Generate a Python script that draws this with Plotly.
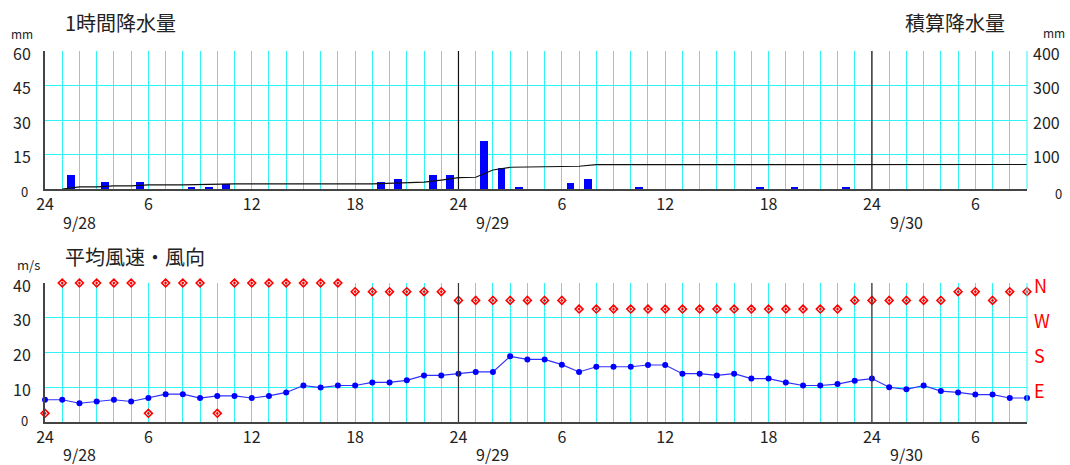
import plotly.graph_objects as go

# ---------------- data ----------------
tick_hours = [0, 6, 12, 18, 24, 30, 36, 42, 48, 54]
tick_labels = ["24", "6", "12", "18", "24", "6", "12", "18", "24", "6"]
date_hours = [2, 26, 50]
date_labels = ["9/28", "9/29", "9/30"]
day_boundaries = [24, 48]

# hourly precipitation (bar centre hour, mm)
rain_hours = [1.5, 3.5, 5.5, 8.5, 9.5, 10.5, 19.5, 20.5, 22.5, 23.5,
              25.5, 26.5, 27.5, 30.5, 31.5, 34.5, 41.5, 43.5, 46.5]
rain_mm = [6, 3, 3, 1, 1, 2, 3, 4.5, 6, 6,
           21, 9, 0.7, 2.5, 4.5, 0.7, 0.7, 0.7, 0.7]

# accumulated precipitation (hour, mm)
cum_hours = [1, 2, 3, 4, 5, 6, 8, 9, 10, 11, 19, 20, 21, 22, 23, 24, 25, 26,
             27, 28, 30, 31, 32, 34, 35, 57]
cum_mm = [0, 6, 6, 9, 9, 12, 12, 13, 14, 15, 15, 17, 20, 20, 26, 33, 34, 55,
          63, 64, 64, 66, 70.5, 70.5, 71, 71]

# wind, hours 0..57
wind_hours = list(range(58))
wind_speed = [6.4, 6.4, 5.4, 5.9, 6.4, 5.9, 6.9, 8.0, 8.0, 6.9,
              7.5, 7.5, 6.9, 7.5, 8.5, 10.5, 9.9, 10.5, 10.5, 11.4,
              11.4, 12.0, 13.4, 13.4, 13.9, 14.4, 14.4, 18.9, 18.0, 18.0,
              16.5, 14.4, 15.9, 15.9, 15.9, 16.4, 16.4, 13.9, 13.9, 13.4,
              13.9, 12.5, 12.5, 11.4, 10.5, 10.5, 10.9, 11.9, 12.5, 10.0,
              9.4, 10.5, 8.9, 8.5, 7.9, 7.9, 6.9, 6.9]
wind_dir = ["NNE", "N", "N", "N", "N", "N", "NNE", "N", "N", "N",
            "NNE", "N", "N", "N", "N", "N", "N", "N", "NNW", "NNW",
            "NNW", "NNW", "NNW", "NNW", "NW", "NW", "NW", "NW", "NW", "NW",
            "NW", "WNW", "WNW", "WNW", "WNW", "WNW", "WNW", "WNW", "WNW", "WNW",
            "WNW", "WNW", "WNW", "WNW", "WNW", "WNW", "WNW", "NW", "NW", "NW",
            "NW", "NW", "NW", "NNW", "NNW", "NW", "NNW", "NNW"]
compass_deg = {"NNE": 22.5, "NE": 45, "ENE": 67.5, "E": 90, "ESE": 112.5,
               "SE": 135, "SSE": 157.5, "S": 180, "SSW": 202.5, "SW": 225,
               "WSW": 247.5, "W": 270, "WNW": 292.5, "NW": 315, "NNW": 337.5,
               "N": 360}
dir_ticks = [90, 180, 270, 360]
dir_labels = ["E", "S", "W", "N"]

# ---------------- style ----------------
FONT = "Noto Sans CJK JP"
CYAN = "#2EF5F5"
AX = "#444444"
TXT = "#222222"
W, H = 1070, 465
ML, MR, MT, MB = 45, 43, 51, 43
PW, PH = W - ML - MR, H - MT - MB


def py(px):  # pixel y -> paper y
    return (H - MB - px) / PH


def pxx(px):  # pixel x -> paper x
    return (px - ML) / PW


fig = go.Figure()

fig.add_trace(go.Bar(x=rain_hours, y=rain_mm, width=0.45,
                     marker=dict(color="#0000FF", line=dict(width=0)),
                     xaxis="x", yaxis="y"))
fig.add_trace(go.Scatter(x=cum_hours, y=cum_mm, mode="lines",
                         line=dict(color="#111111", width=1.2),
                         xaxis="x", yaxis="y2"))
fig.add_trace(go.Scatter(x=wind_hours, y=[compass_deg[d] for d in wind_dir],
                         mode="markers", cliponaxis=False,
                         marker=dict(symbol="diamond-open-dot", size=6,
                                     color="#FF0000", line=dict(width=1.6, color="#FF0000")),
                         xaxis="x2", yaxis="y4"))
fig.add_trace(go.Scatter(x=wind_hours, y=wind_speed, mode="lines+markers",
                         cliponaxis=False,
                         line=dict(color="#3030FF", width=1.2),
                         marker=dict(symbol="circle", size=6, color="#0000FF"),
                         xaxis="x2", yaxis="y3"))

xcommon = dict(range=[0, 57], tickvals=tick_hours, ticktext=tick_labels,
               showgrid=True, gridcolor=CYAN, gridwidth=1, automargin=False,
               minor=dict(dtick=1, tick0=0, showgrid=True, gridcolor=CYAN, gridwidth=1),
               showline=True, linecolor=AX, linewidth=2, ticks="",
               zeroline=False, tickfont=dict(family=FONT, size=16, color=TXT))
ycommon = dict(showgrid=True, gridcolor=CYAN, gridwidth=1, showline=True,
               linecolor=AX, linewidth=2, ticks="", zeroline=False, automargin=False,
               ticklabelstandoff=9, ticklabelshift=3,
               tickfont=dict(family=FONT, size=16, color=TXT))

fig.update_layout(
    width=W, height=H, margin=dict(l=ML, r=MR, t=MT, b=MB, autoexpand=False),
    plot_bgcolor="white", paper_bgcolor="white", showlegend=False, bargap=0,
    xaxis=dict(domain=[0, 1], anchor="y", **xcommon),
    xaxis2=dict(domain=[0, 1], anchor="y3", **xcommon),
    yaxis=dict(domain=[py(189), 1], range=[0, 60], tickvals=[15, 30, 45, 60], **ycommon),
    yaxis2=dict(overlaying="y", side="right", range=[0, 400],
                tickvals=[100, 200, 300, 400], showgrid=False, zeroline=False,
                ticks="", ticklabelstandoff=5, ticklabelshift=3, automargin=False,
                tickfont=dict(family=FONT, size=16, color=TXT)),
    yaxis3=dict(domain=[0, py(283)], range=[0, 40], tickvals=[10, 20, 30, 40], **ycommon),
    yaxis4=dict(overlaying="y3", side="right", range=[0, 360],
                tickvals=dir_ticks, ticktext=dir_labels, showgrid=False,
                zeroline=False, ticks="", ticklabelstandoff=6, ticklabelshift=4,
                automargin=False,
                tickfont=dict(family=FONT, size=18, color="#FF0000")),
)

shapes = []
for d in day_boundaries:
    shapes.append(dict(type="line", xref="x", yref="y domain", x0=d, x1=d, y0=0, y1=1,
                       line=dict(color="#111111", width=1.2)))
    shapes.append(dict(type="line", xref="x2", yref="y3 domain", x0=d, x1=d, y0=0, y1=1,
                       line=dict(color="#333333", width=1.2)))
for yr in ["y domain", "y3 domain"]:
    shapes.append(dict(type="line", xref="x domain", yref=yr, x0=1, x1=1, y0=0, y1=1,
                       line=dict(color=CYAN, width=1)))
fig.update_layout(shapes=shapes)

ann = []


def txt(x, y, s, size=15, color=TXT, xanchor="center"):
    ann.append(dict(x=x, y=y, xref="paper", yref="paper", text=s, showarrow=False,
                    xanchor=xanchor, yanchor="middle",
                    font=dict(family=FONT, size=size, color=color)))


txt(pxx(63), py(22), "1時間降水量", size=20, xanchor="left")
txt(pxx(1007), py(22), "積算降水量", size=20, xanchor="right")
txt(pxx(63), py(256), "平均風速・風向", size=20, xanchor="left")
txt(pxx(22), py(33), "mm", size=12)
txt(pxx(1054), py(32), "mm", size=12)
txt(pxx(28), py(264), "m/s", size=13)
txt(pxx(24), py(191), "0", size=13)
txt(pxx(24), py(420), "0", size=13)
txt(pxx(1058), py(194), "0", size=13)

for h, lab in zip(date_hours, date_labels):
    ann.append(dict(x=h, y=py(222), xref="x", yref="paper", text=lab, showarrow=False,
                    xanchor="center", yanchor="middle",
                    font=dict(family=FONT, size=16, color=TXT)))
    ann.append(dict(x=h, y=py(454), xref="x2", yref="paper", text=lab, showarrow=False,
                    xanchor="center", yanchor="middle",
                    font=dict(family=FONT, size=16, color=TXT)))
fig.update_layout(annotations=ann)

fig.write_html("out.html", config={"displayModeBar": False},
               post_script="document.body.style.margin='0';"
                           "document.documentElement.style.overflow='hidden';")
